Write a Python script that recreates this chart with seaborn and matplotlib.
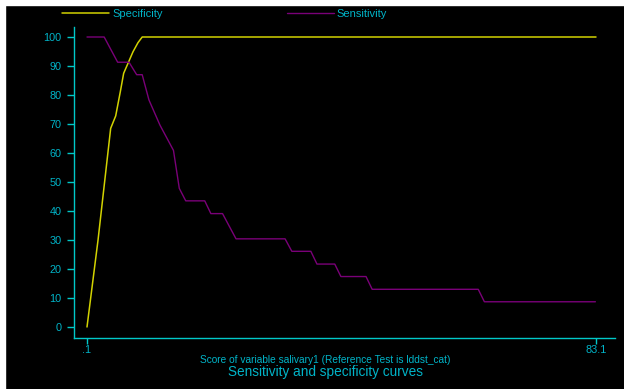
import matplotlib
matplotlib.use("Agg")
import matplotlib.pyplot as plt
from matplotlib.patches import Rectangle
from matplotlib.lines import Line2D
import seaborn as sns
import pandas as pd

# ---- data ----
spec_x = [0.1, 1.9, 3.96, 4.78, 5.53, 6.08, 6.78, 7.6, 8.4, 9.1, 83.1]
spec_y = [0.0, 30.0, 68.5, 72.8, 81.1, 87.5, 90.9, 94.9, 98.0, 100.0, 100.0]

sens_x = [0.1, 2.9, 5.1, 6.95, 8.2, 9.1, 10.2, 12.0, 14.2, 15.15, 16.2, 19.3,
          20.3, 22.2, 24.4, 32.4, 33.5, 36.6, 37.6, 40.5, 41.5, 45.6, 46.6,
          63.9, 64.9, 83.0]
sens_y = [100.0, 100.0, 91.3, 91.3, 87.0, 87.0, 78.3, 69.6, 60.9, 47.8, 43.5, 43.5,
          39.1, 39.1, 30.4, 30.4, 26.1, 26.1, 21.7, 21.7, 17.4, 17.4, 13.0,
          13.0, 8.7, 8.7]

series_names = ["Specificity", "Sensitivity"]
x_ticks = [0.1, 83.1]
x_tick_labels = [".1", "83.1"]
y_ticks = [0, 10, 20, 30, 40, 50, 60, 70, 80, 90, 100]
x_label = "Score of variable salivary1 (Reference Test is lddst_cat)"
title = "Sensitivity and specificity curves"

# ---- style ----
sns.set_style("dark")
plt.rcParams["font.family"] = ["Liberation Sans", "DejaVu Sans"]

W, H = 624, 389
fig = plt.figure(figsize=(W / 100, H / 100), dpi=100, facecolor="black")
fig.patches.append(Rectangle((0, 0), 5 / W, 1, transform=fig.transFigure,
                             color="white", zorder=0))
fig.patches.append(Rectangle((0, 1 - 5 / H), 1, 5 / H, transform=fig.transFigure,
                             color="white", zorder=0))

ax = fig.add_axes([74 / W, 1 - 338 / H, (615 - 74) / W, (338 - 27) / H])
ax.set_facecolor("black")

spec_col = "#d2d200"
sens_col = "#7a0078"
line_col = "#00c8c8"
text_col = "#00b4c8"

df_spec = pd.DataFrame({"x": spec_x, "y": spec_y})
df_sens = pd.DataFrame({"x": sens_x, "y": sens_y})
sns.lineplot(data=df_spec, x="x", y="y", ax=ax, color=spec_col, lw=1.1,
             sort=False, legend=False)
sns.lineplot(data=df_sens, x="x", y="y", ax=ax, color=sens_col, lw=1.0,
             sort=False, legend=False)

ax.set_xlim(0.1 - 13 / 6.133, 83.1 + 19 / 6.133)
ax.set_ylim(-11 / 2.9, 100 + 10 / 2.9)
ax.grid(False)
for s in ["top", "right"]:
    ax.spines[s].set_visible(False)
for s in ["left", "bottom"]:
    ax.spines[s].set_visible(True)
    ax.spines[s].set_color(line_col)
    ax.spines[s].set_linewidth(1.0)

ax.set_yticks(y_ticks)
ax.set_yticklabels([str(v) for v in y_ticks])
ax.set_xticks(x_ticks)
ax.set_xticklabels(x_tick_labels)
ax.tick_params(axis="y", colors=line_col, labelcolor=text_col, length=5,
               width=1, pad=4, labelsize=7.8, left=True)
ax.tick_params(axis="x", colors=line_col, labelcolor=text_col, length=4,
               width=1, pad=1, labelsize=7.8, bottom=True)
ax.set_xlabel("")
ax.set_ylabel("")

fig.text(325 / W, 1 - 360 / H, x_label, color=text_col, fontsize=7.3,
         ha="center", va="center")
fig.text(325 / W, 1 - 372 / H, title, color=text_col, fontsize=9.8,
         ha="center", va="center")

handles = [Line2D([], [], color=spec_col, lw=1.1),
           Line2D([], [], color=sens_col, lw=1.0)]
fig.legend(handles, series_names, loc="center left",
           bbox_to_anchor=(62 / W, 1 - 14 / H), ncol=2, frameon=False,
           fontsize=8, labelcolor=text_col, handlelength=4.2,
           handletextpad=0.3, columnspacing=11.2, borderpad=0,
           borderaxespad=0)

fig.savefig("out.png", dpi=100, facecolor=fig.get_facecolor())
